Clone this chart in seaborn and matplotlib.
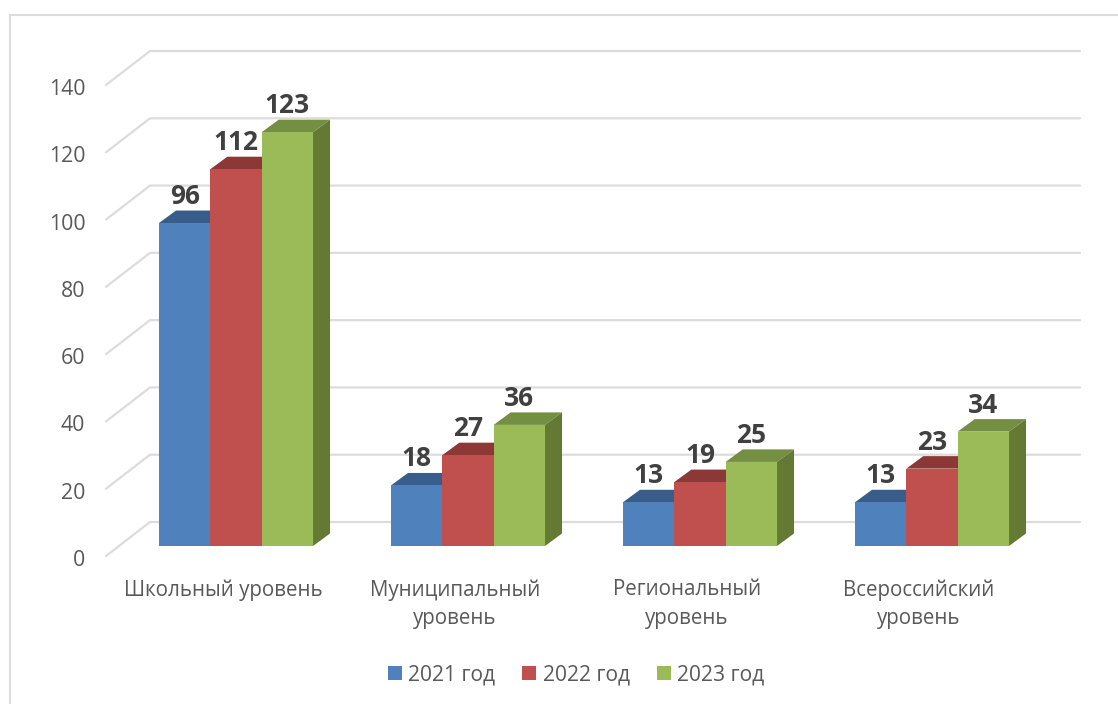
import matplotlib
matplotlib.use("Agg")
import matplotlib.pyplot as plt
from matplotlib.lines import Line2D
from matplotlib.patches import Polygon
from matplotlib.transforms import ScaledTranslation
import pandas as pd
import seaborn as sns

categories = ["Школьный уровень", "Муниципальный\nуровень", "Региональный\nуровень", "Всероссийский\nуровень"]
years = ["2021 год", "2022 год", "2023 год"]
values_2021 = [96, 18, 13, 13]
values_2022 = [112, 27, 19, 23]
values_2023 = [123, 36, 25, 34]
y_ticks = [0, 20, 40, 60, 80, 100, 120, 140]

colors = ["#4f81bd", "#c0504d", "#9bbb59"]
top_colors = ["#385d8a", "#8c3836", "#748e42"]
side_colors = ["#2f4f75", "#772f2d", "#647a34"]
GRID = "#dcdcdc"
TEXT = "#595959"
LABEL = "#404040"
W, H = 1118, 704

sns.set_theme(style="white")
plt.rcParams["font.family"] = ["Open Sans", "DejaVu Sans"]

df = pd.DataFrame({
    "category": categories * 3,
    "year": [y for y in years for _ in categories],
    "value": values_2021 + values_2022 + values_2023,
})

fig = plt.figure(figsize=(W / 100, H / 100), dpi=100)
ax_l, ax_r, ax_top, ax_bot = 120, 1048, 75, 546
ax = fig.add_axes([ax_l / W, 1 - ax_bot / H, (ax_r - ax_l) / W, (ax_bot - ax_top) / H])

sns.barplot(data=df, x="category", y="value", hue="year", hue_order=years, order=categories,
            palette=colors, width=0.664, gap=0, saturation=1, ax=ax, zorder=5, linewidth=0)
ax.set_xlim(-0.5, 3.5)
ax.set_ylim(0, 140)
ax.set_xlabel("")
ax.set_ylabel("")
ax.set_yticks(y_ticks)
sns.despine(ax=ax, left=True, bottom=True)

px_x = 4 / (ax_r - ax_l)      # data units per px
px_y = 140 / (ax_bot - ax_top)


def to_x(px):
    return (px - ax_l) * px_x


# back wall grid and slanted side wall
for v in y_ticks:
    x0, x1, x2 = to_x(106) - 0.5, to_x(150) - 0.5, to_x(1080) - 0.5
    y0, y1 = v - 10 * px_y, v + 24 * px_y
    ax.plot([x0, x1, x2], [y0, y1, y1], color=GRID, lw=1.6, clip_on=False, zorder=1,
            solid_joinstyle="miter")

# 3-D faces of the bars, derived from each bar's geometry
dx, dy = 17 * px_x, 12.5 * px_y
for i, cont in enumerate(ax.containers):
    for bar in cont:
        x, w, h = bar.get_x(), bar.get_width(), bar.get_height()
        z = 2 + i
        ax.add_patch(Polygon([(x, h), (x + w, h), (x + w + dx, h + dy), (x + dx, h + dy)],
                             closed=True, fc=top_colors[i], ec="none", clip_on=False, zorder=z))
        ax.add_patch(Polygon([(x + w, 0), (x + w + dx, dy), (x + w + dx, h + dy), (x + w, h)],
                             closed=True, fc=side_colors[i], ec="none", clip_on=False, zorder=z))
        bar.set_zorder(z + 0.5)
        ax.annotate(f"{h:.0f}", (x + w / 2, h), xytext=(0, 26.5 * 0.72), textcoords="offset points",
                    ha="center", va="center", fontsize=19, fontweight="bold", color=LABEL,
                    zorder=10, annotation_clip=False)

# tick labels
ax.tick_params(axis="y", length=0, pad=25, labelsize=15.3, labelcolor=TEXT)
ax.tick_params(axis="x", length=0, pad=24, labelsize=14.8, labelcolor=TEXT)
for lab in ax.get_yticklabels():
    lab.set_transform(lab.get_transform() + ScaledTranslation(0, -12 / 100, fig.dpi_scale_trans))
for lab in ax.get_xticklabels():
    lab.set_transform(lab.get_transform() + ScaledTranslation(-13 / 100, 0, fig.dpi_scale_trans))
    lab.set_linespacing(1.45)

# legend
sns.move_legend(ax, "center", bbox_to_anchor=((576 - ax_l) / (ax_r - ax_l), -(675 - ax_bot) / (ax_bot - ax_top)),
                ncol=3, frameon=False, title=None, fontsize=15.1, labelcolor=TEXT,
                handlelength=0.67, handleheight=0.67, handletextpad=0.3, columnspacing=1.3,
                borderaxespad=0, borderpad=0)

# chart area border
for xs, ys in [((10, 10), (15, H)), ((10, W), (15, 15))]:
    fig.add_artist(Line2D([x / W for x in xs], [1 - y / H for y in ys], color=GRID, lw=1.5))

fig.savefig("out.png", dpi=100)
